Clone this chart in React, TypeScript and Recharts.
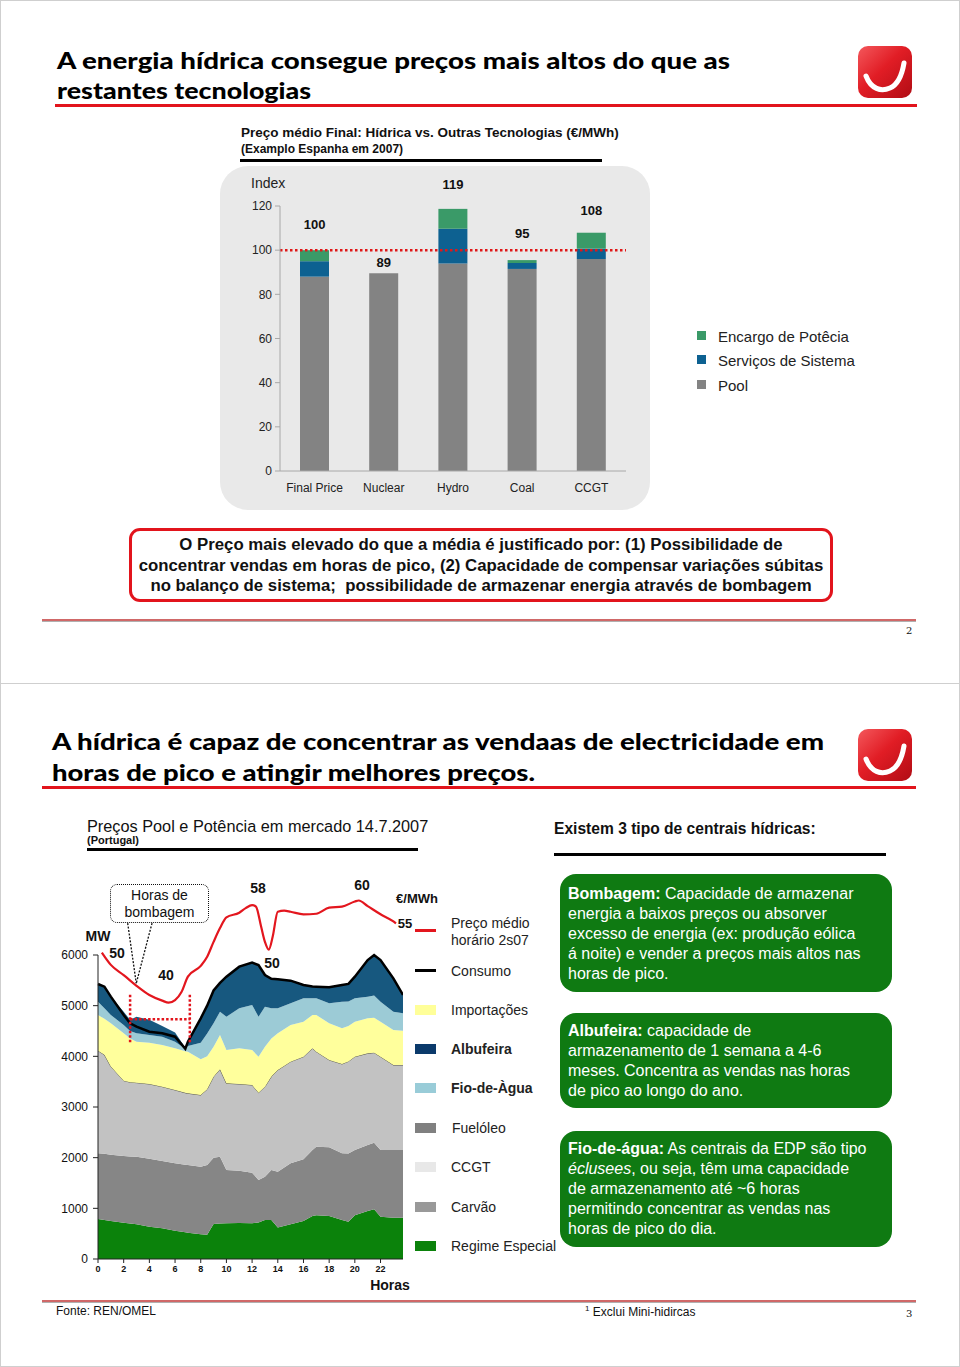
import React from 'react';
import {
  BarChart, Bar, ComposedChart, Area, Line,
  XAxis, YAxis, ReferenceLine, ReferenceDot,
} from 'recharts';

// ─── Slide 2: price index by technology ──────────────────────────────────────

const TECHS    = ['Final Price', 'Nuclear', 'Hydro', 'Coal', 'CCGT'];
const POOL     = [88, 89.5, 94, 91.5, 96];
const SERVICOS = [7, 0, 15.7, 2.7, 4.7];
const ENCARGO  = [5, 0, 9, 1.3, 7.2];
const TOTALS   = [100, 89, 119, 95, 108];
const INDEX_TICKS = [0, 20, 40, 60, 80, 100, 120];

// ─── Slide 3: Portugal 14.7.2007 load curve ──────────────────────────────────

const HOURS   = [0, 0.5, 1, 2, 2.5, 3, 4, 5, 6, 6.8, 7, 8, 8.5, 9, 9.5, 10, 11, 12, 12.5, 13, 13.5, 14, 15, 16, 16.7, 17, 18, 19, 19.5, 20, 21, 21.5, 22, 23, 23.75];
const REGIME  = [790, 770, 750, 717, 700, 684, 638, 605, 560, 530, 520, 487, 480, 690, 700, 704, 710, 704, 720, 770, 770, 620, 684, 750, 850, 862, 849, 770, 737, 862, 947, 980, 835, 816, 816];
const CARVAO  = [1296, 1305, 1309, 1316, 1325, 1336, 1342, 1329, 1328, 1330, 1335, 1335, 1375, 1310, 1320, 1053, 1033, 1000, 839, 855, 987, 1104, 1204, 1217, 1300, 1355, 1355, 1316, 1343, 1289, 1303, 1316, 1316, 1335, 1335];
const CCGT    = [2026, 1955, 1741, 1487, 1465, 1460, 1474, 1467, 1448, 1420, 1415, 1415, 1495, 1599, 1723, 1710, 1711, 1730, 1724, 1776, 1843, 2006, 2007, 2026, 2008, 1875, 1724, 1763, 1820, 1842, 1809, 1776, 1842, 1678, 1678];
const IMPORT  = [704, 710, 851, 934, 860, 809, 816, 823, 822, 820, 822, 704, 650, 592, 678, 658, 704, 691, 710, 790, 750, 724, 723, 691, 658, 724, 723, 704, 700, 691, 691, 688, 691, 691, 678];
const FIO     = [263, 210, 165, 164, 150, 165, 151, 164, 131, 50, 112, 329, 450, 460, 461, 658, 789, 888, 790, 789, 600, 493, 428, 461, 329, 329, 395, 526, 480, 461, 428, 440, 395, 362, 342];
const ALBUF   = [349, 425, 362, 262, 220, 326, 299, 212, 181, 20, 96, 480, 550, 649, 568, 789, 823, 836, 1017, 625, 580, 573, 447, 263, 235, 230, 316, 329, 350, 427, 722, 800, 822, 657, 362];
const CONSUMO = [5428, 5375, 5178, 4816, 4651, 4586, 4487, 4454, 4388, 4150, 4289, 4750, 5000, 5300, 5450, 5572, 5770, 5849, 5800, 5605, 5530, 5520, 5493, 5408, 5380, 5375, 5362, 5408, 5430, 5572, 5900, 6000, 5901, 5539, 5211];

const PRICE_HOURS = [0.3, 1, 2, 3, 4, 5, 5.5, 6, 6.5, 7, 8, 8.5, 9, 9.5, 10, 11, 11.5, 12, 12.3, 12.7, 13, 13.3, 13.6, 14, 14.5, 15, 16, 17, 18, 19, 20, 20.3, 21, 22, 23, 23.2];
const PRICE       = [49.9, 47.5, 45.5, 43.4, 41.6, 40.5, 40.1, 40.6, 42.2, 45.2, 47.3, 49.1, 52, 54.7, 56.8, 57.7, 58.6, 59.2, 58.9, 55, 52, 50.5, 53, 57.9, 58.1, 57.9, 57.4, 57.5, 58.7, 58.9, 59.9, 60.1, 59, 57.4, 56, 55.6];

const HOUR_TICKS = [0, 2, 4, 6, 8, 10, 12, 14, 16, 18, 20, 22];
const MW_TICKS   = [0, 1000, 2000, 3000, 4000, 5000, 6000];
const PUMP_START = 2.5;
const PUMP_END   = 7.15;

// ─── styling ─────────────────────────────────────────────────────────────────

const SANS   = "'Liberation Sans', Arial, Helvetica, sans-serif";
const NARROW = "'Liberation Sans Narrow', 'Liberation Sans', Arial, sans-serif";
const HEAVY  = "Lato, 'DejaVu Sans', sans-serif";
const RED    = '#e2141c';
const GREEN_BOX = '#0f7a12';

const C = {
  pool: '#838383', servicos: '#0d6191', encargo: '#3a9a68',
  regime: '#0b820b', carvao: '#868686', ccgt: '#c2c2c2', importacoes: '#ffff9c',
  fio: '#9ccbd6', albufeira: '#17587f', price: '#e3161e',
};

const LABEL_LIFT = [26, 11, 24, 27, 22];

function Txt({ x, y, children, size = 14, weight = 400, color = '#111', family = SANS, anchor = 'start', style = {} }: any) {
  const tx = anchor === 'middle' ? '-50%' : anchor === 'end' ? '-100%' : '0';
  return (
    <div style={{
      position: 'absolute', left: x, top: y, transform: `translate(${tx}, -50%)`,
      fontSize: size, fontWeight: weight, color, fontFamily: family, whiteSpace: 'nowrap', lineHeight: 1, ...style,
    }}>{children}</div>
  );
}

function Rule({ x, y, w, h = 3, color = '#000' }: any) {
  return <div style={{ position: 'absolute', left: x, top: y, width: w, height: h, background: color }} />;
}

function Logo({ x, y, id }: { x: number; y: number; id: string }) {
  return (
    <svg style={{ position: 'absolute', left: x, top: y }} width={56} height={54} viewBox="0 0 56 54">
      <defs>
        <linearGradient id={id} x1="0" y1="0" x2="1" y2="1">
          <stop offset="0" stopColor="#f4585c" />
          <stop offset="0.45" stopColor="#e11d25" />
          <stop offset="1" stopColor="#b10c14" />
        </linearGradient>
      </defs>
      <rect x={1} y={1} width={54} height={52} rx={10} fill={`url(#${id})`} />
      <path d="M9 31 C 14 44 24 47 33 43 C 40 40 45 30 47 18" stroke="#fff" strokeWidth={5} fill="none" strokeLinecap="round" />
    </svg>
  );
}

function TitleLines({ lines }: { lines: { text: string; x: number; y: number; w: number }[] }) {
  return (
    <svg style={{ position: 'absolute', left: 0, top: 0 }} width={960} height={1367}>
      {lines.map(l => (
        <text key={l.text} x={l.x} y={l.y} textLength={l.w} lengthAdjust="spacingAndGlyphs"
          fontFamily={HEAVY} fontWeight={900} fontSize={22} fill="#000">{l.text}</text>
      ))}
    </svg>
  );
}

function FooterRule({ y }: { y: number }) {
  return (
    <div style={{ position: 'absolute', left: 42, top: y, width: 874 }}>
      <div style={{ height: 2, background: '#d06868' }} />
      <div style={{ height: 1, background: '#b0b0b0' }} />
    </div>
  );
}

const TotalLabel = (lift: number, value: number) => (props: any) => {
  const vb = props.viewBox || {};
  const cx = (vb.x ?? 0) + (vb.width ?? 0) / 2;
  const cy = (vb.y ?? 0) + (vb.height ?? 0) / 2;
  return (
    <text x={cx} y={cy - lift} textAnchor="middle" dominantBaseline="central"
      fontFamily={SANS} fontWeight={700} fontSize={13} fill="#111">{value}</text>
  );
};

// ─── charts ──────────────────────────────────────────────────────────────────

function IndexChart() {
  const data = TECHS.map((t, i) => ({ tech: t, pool: POOL[i], servicos: SERVICOS[i], encargo: ENCARGO[i] }));
  return (
    <div style={{ position: 'absolute', left: 220, top: 160 }}>
      <BarChart width={406} height={341} data={data} margin={{ top: 46, right: 0, bottom: 0, left: 0 }} barSize={29}>
        <XAxis dataKey="tech" height={30} tickLine={false} tickSize={6} tickMargin={6}
          axisLine={{ stroke: '#a8a8a8' }} tick={{ fontSize: 12, fill: '#222', fontFamily: SANS }} />
        <YAxis domain={[0, 120]} ticks={INDEX_TICKS} width={60} tickSize={5} tickMargin={3}
          axisLine={{ stroke: '#a8a8a8' }} tickLine={{ stroke: '#a8a8a8' }}
          tick={{ fontSize: 12, fill: '#222', fontFamily: SANS }} />
        <Bar dataKey="pool" stackId="s" fill={C.pool} isAnimationActive={false} />
        <Bar dataKey="servicos" stackId="s" fill={C.servicos} isAnimationActive={false} />
        <Bar dataKey="encargo" stackId="s" fill={C.encargo} isAnimationActive={false} />
        <ReferenceLine y={100} stroke="#e01818" strokeWidth={2.5} strokeDasharray="2.5 2.5" ifOverflow="visible" />
        {TECHS.map((t, i) => (
          <ReferenceDot key={t} x={t} y={POOL[i] + SERVICOS[i] + ENCARGO[i]} r={1}
            fill="none" stroke="none" ifOverflow="visible" label={TotalLabel(LABEL_LIFT[i], TOTALS[i])} />
        ))}
      </BarChart>
    </div>
  );
}

function LoadChart() {
  const data = HOURS.map((h, i) => ({
    h, regime: REGIME[i], carvao: CARVAO[i], ccgt: CCGT[i], importacoes: IMPORT[i],
    fio: FIO[i], albufeira: ALBUF[i], consumo: CONSUMO[i],
  }));
  const priceData = PRICE_HOURS.map((h, i) => ({ h, price: PRICE[i] }));
  const dots = { stroke: RED, strokeWidth: 2.5, strokeDasharray: '2.5 2', ifOverflow: 'visible' as const };
  const pointer = { stroke: '#111', strokeWidth: 1.3, strokeDasharray: '2 1.5', ifOverflow: 'visible' as const };
  return (
    <div style={{ position: 'absolute', left: 47, top: 880 }}>
      <ComposedChart width={356} height={403} data={data} margin={{ top: 14.2, right: 0, bottom: 0, left: 0 }}>
        <XAxis dataKey="h" type="number" domain={[0, 23.75]} ticks={HOUR_TICKS} height={24}
          tickSize={4} tickMargin={3} axisLine={{ stroke: '#222' }} tickLine={{ stroke: '#222' }}
          tick={{ fontSize: 9, fontWeight: 700, fill: '#111', fontFamily: SANS }} />
        <YAxis yAxisId="mw" domain={[0, 7200]} ticks={MW_TICKS} width={51} tickSize={5} tickMargin={5}
          axisLine={false} tickLine={{ stroke: '#222' }}
          tick={{ fontSize: 12, fill: '#111', fontFamily: SANS }} />
        <YAxis yAxisId="eur" orientation="right" hide domain={[-10.06, 61.33]} />
        <Area yAxisId="mw" type="linear" dataKey="regime" stackId="g" stroke="none" fill={C.regime} fillOpacity={1} isAnimationActive={false} />
        <Area yAxisId="mw" type="linear" dataKey="carvao" stackId="g" stroke="none" fill={C.carvao} fillOpacity={1} isAnimationActive={false} />
        <Area yAxisId="mw" type="linear" dataKey="ccgt" stackId="g" stroke="#3a3a2a" strokeWidth={0.8} fill={C.ccgt} fillOpacity={1} isAnimationActive={false} />
        <Area yAxisId="mw" type="linear" dataKey="importacoes" stackId="g" stroke="none" fill={C.importacoes} fillOpacity={1} isAnimationActive={false} />
        <Area yAxisId="mw" type="linear" dataKey="fio" stackId="g" stroke="none" fill={C.fio} fillOpacity={1} isAnimationActive={false} />
        <Area yAxisId="mw" type="linear" dataKey="albufeira" stackId="g" stroke="none" fill={C.albufeira} fillOpacity={1} isAnimationActive={false} />
        <Line yAxisId="mw" type="linear" dataKey="consumo" stroke="#000" strokeWidth={2.5} dot={false} isAnimationActive={false} />
        <Line yAxisId="eur" data={priceData} type="monotone" dataKey="price" stroke={C.price} strokeWidth={2.2} dot={false} isAnimationActive={false} />
        <ReferenceLine yAxisId="mw" segment={[{ x: 0, y: 0 }, { x: 0, y: 6000 }]} stroke="#222" strokeWidth={1} ifOverflow="visible" />
        <ReferenceLine yAxisId="mw" segment={[{ x: PUMP_START, y: 4280 }, { x: PUMP_START, y: 5250 }]} {...dots} />
        <ReferenceLine yAxisId="mw" segment={[{ x: PUMP_END, y: 4280 }, { x: PUMP_END, y: 5250 }]} {...dots} />
        <ReferenceLine yAxisId="mw" segment={[{ x: PUMP_START, y: 4730 }, { x: PUMP_END, y: 4730 }]} {...dots} />
        <ReferenceLine yAxisId="mw" segment={[{ x: 2.31, y: 6630 }, { x: 2.98, y: 5440 }]} {...pointer} />
        <ReferenceLine yAxisId="mw" segment={[{ x: 4.21, y: 6630 }, { x: 2.98, y: 5440 }]} {...pointer} />
      </ComposedChart>
    </div>
  );
}

// ─── page ────────────────────────────────────────────────────────────────────

const AREA_LEGEND = [
  { label: 'Importações', color: '#ffff99', y: 1010, bold: false },
  { label: 'Albufeira', color: '#0b3a6b', y: 1049, bold: true },
  { label: 'Fio-de-Àgua', color: '#99ccd8', y: 1088, bold: true },
  { label: 'Fuelóleo', color: '#808080', y: 1128, bold: false },
  { label: 'CCGT', color: '#e8e8e8', y: 1167, bold: false },
  { label: 'Carvão', color: '#999999', y: 1207, bold: false },
  { label: 'Regime Especial', color: '#0b820b', y: 1246, bold: false },
];

const boxText: React.CSSProperties = {
  position: 'absolute', left: 560, width: 332, background: GREEN_BOX, borderRadius: 16,
  color: '#fff', fontFamily: SANS, fontSize: 16, lineHeight: '20px', padding: '8px 8px', boxSizing: 'border-box',
};

export default function App() {
  return (
    <div style={{ position: 'absolute', left: 0, top: 0, width: 960, height: 1367, background: '#fff', overflow: 'hidden', fontFamily: SANS }}>
      {/* page frames */}
      <div style={{ position: 'absolute', left: 0, top: 0, width: 958, height: 682, border: '1px solid #cfcfcf' }} />
      <div style={{ position: 'absolute', left: 0, top: 683, width: 958, height: 682, border: '1px solid #cfcfcf' }} />

      <TitleLines lines={[
        { text: 'A energia hídrica consegue preços mais altos do que as', x: 57, y: 69, w: 673 },
        { text: 'restantes tecnologias', x: 57, y: 99, w: 254 },
        { text: 'A hídrica é capaz de concentrar as vendaas de electricidade em', x: 52, y: 750, w: 772 },
        { text: 'horas de pico e atingir melhores preços.', x: 52, y: 781, w: 483 },
      ]} />
      <Rule x={55} y={104} w={862} h={3} color={RED} />
      <Rule x={42} y={786} w={874} h={3} color={RED} />
      <Logo x={857} y={45} id="logoA" />
      <Logo x={857} y={728} id="logoB" />

      {/* slide 2 */}
      <Txt x={241} y={133} size={13.5} weight={700}>Preço médio Final: Hídrica vs. Outras Tecnologias (€/MWh)</Txt>
      <Txt x={241} y={149} size={12} weight={700}>(Examplo Espanha em 2007)</Txt>
      <div style={{ position: 'absolute', left: 220, top: 166, width: 430, height: 344, borderRadius: 28, background: '#e9e9e9' }} />
      <Rule x={240} y={159} w={362} h={3} />
      <Txt x={251} y={183} size={14} color="#222">Index</Txt>
      <IndexChart />
      {[
        { label: 'Encargo de Potêcia', color: C.encargo, y: 336 },
        { label: 'Serviços de Sistema', color: C.servicos, y: 360 },
        { label: 'Pool', color: C.pool, y: 385 },
      ].map(l => (
        <React.Fragment key={l.label}>
          <div style={{ position: 'absolute', left: 697, top: l.y - 5, width: 9, height: 9, background: l.color }} />
          <Txt x={718} y={l.y} size={15} color="#222">{l.label}</Txt>
        </React.Fragment>
      ))}

      <div style={{
        position: 'absolute', left: 129, top: 528, width: 704, height: 74, boxSizing: 'border-box',
        border: `3px solid ${RED}`, borderRadius: 11, fontFamily: NARROW, fontWeight: 700, fontSize: 16.8,
        lineHeight: '20.5px', textAlign: 'center', paddingTop: 4, color: '#111',
      }}>
        O Preço mais elevado do que a média é justificado por: (1) Possibilidade de<br />
        concentrar vendas em horas de pico, (2) Capacidade de compensar variações súbitas<br />
        no balanço de sistema;&nbsp; possibilidade de armazenar energia através de bombagem
      </div>

      <FooterRule y={619} />
      <Txt x={906} y={631} size={10} family="'DejaVu Serif', serif">2</Txt>

      {/* slide 3 */}
      <Txt x={87} y={826} size={16.3} family={NARROW}>Preços Pool e Potência em mercado 14.7.2007</Txt>
      <Txt x={87} y={840} size={11} weight={700} family={NARROW}>(Portugal)</Txt>
      <Rule x={87} y={848} w={331} h={3} />
      <Txt x={554} y={829} size={15.6} weight={700} family={NARROW}>Existem 3 tipo de centrais hídricas:</Txt>
      <Rule x={554} y={853} w={332} h={3} />

      <LoadChart />
      <div style={{
        position: 'absolute', left: 110, top: 884, width: 99, height: 39, boxSizing: 'border-box',
        border: '1.5px dotted #111', borderRadius: 7, background: '#fff', textAlign: 'center',
        fontSize: 14, lineHeight: '17px', color: '#111', paddingTop: 2,
      }}>Horas de<br />bombagem</div>
      <Txt x={98} y={936} size={14} weight={700} anchor="middle">MW</Txt>
      <Txt x={117} y={953} size={14} weight={700} anchor="middle">50</Txt>
      <Txt x={166} y={975} size={14} weight={700} anchor="middle">40</Txt>
      <Txt x={258} y={888} size={14} weight={700} anchor="middle">58</Txt>
      <Txt x={272} y={963} size={14} weight={700} anchor="middle">50</Txt>
      <Txt x={362} y={885} size={14} weight={700} anchor="middle">60</Txt>
      <Txt x={405} y={923} size={13} weight={700} anchor="middle">55</Txt>
      <Txt x={417} y={898} size={13} weight={700} anchor="middle">€/MWh</Txt>
      <Txt x={390} y={1285} size={14} weight={700} anchor="middle">Horas</Txt>

      {/* load chart legend */}
      <Rule x={415} y={929} w={21} h={2.5} color={C.price} />
      <Txt x={451} y={923} size={14} color="#222">Preço médio</Txt>
      <Txt x={451} y={940} size={14} color="#222">horário 2s07</Txt>
      <Rule x={415} y={969} w={21} h={2.5} color="#000" />
      <Txt x={451} y={971} size={14} color="#222">Consumo</Txt>
      {AREA_LEGEND.map(l => (
        <React.Fragment key={l.label}>
          <div style={{ position: 'absolute', left: 415, top: l.y - 5, width: 21, height: 10, background: l.color }} />
          <Txt x={l.label === 'Fuelóleo' ? 452 : 451} y={l.y} size={14} weight={l.bold ? 700 : 400} color="#222">{l.label}</Txt>
        </React.Fragment>
      ))}

      <div style={{ ...boxText, top: 874, height: 118, paddingTop: 10 }}>
        <b>Bombagem:</b> Capacidade de armazenar<br />
        energia a baixos preços ou absorver<br />
        excesso de energia (ex: produção eólica<br />
        á noite) e vender a preços mais altos nas<br />
        horas de pico.
      </div>
      <div style={{ ...boxText, top: 1013, height: 95 }}>
        <b>Albufeira:</b> capacidade de<br />
        armazenamento de 1 semana a 4-6<br />
        meses. Concentra as vendas nas horas<br />
        de pico ao longo do ano.
      </div>
      <div style={{ ...boxText, top: 1131, height: 116 }}>
        <b>Fio-de-água:</b> As centrais da EDP são tipo<br />
        <i>éclusees</i>, ou seja, têm uma capacidade<br />
        de armazenamento até ~6 horas<br />
        permitindo concentrar as vendas nas<br />
        horas de pico do dia.
      </div>

      <FooterRule y={1300} />
      <Txt x={56} y={1311} size={12} family={NARROW}>Fonte: REN/OMEL</Txt>
      <Txt x={585} y={1311} size={12} family={NARROW}><sup style={{ fontSize: 8 }}>1</sup> Exclui Mini-hidircas</Txt>
      <Txt x={906} y={1314} size={10} family="'DejaVu Serif', serif">3</Txt>
    </div>
  );
}
